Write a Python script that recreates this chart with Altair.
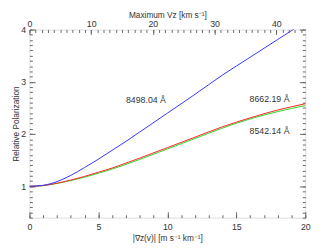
import altair as alt
import pandas as pd

FONT = "Liberation Sans"

# gradient |∇z(v)| in m s^-1 km^-1
grad = [0, 1, 2, 3, 4, 5, 6, 7, 8, 10, 12, 14, 16, 18, 20]
pol_8498 = [1.0, 1.02, 1.09, 1.21, 1.36, 1.52, 1.69, 1.86, 2.04, 2.40, 2.76, 3.13, 3.47, 3.81, 4.15]
pol_8542 = [1.0, 1.013, 1.055, 1.11, 1.175, 1.25, 1.33, 1.42, 1.515, 1.715, 1.915, 2.115, 2.29, 2.43, 2.545]
pol_8662 = [1.0, 1.015, 1.06, 1.12, 1.19, 1.27, 1.35, 1.445, 1.54, 1.74, 1.94, 2.14, 2.31, 2.46, 2.58]

x_major = [0, 5, 10, 15, 20]
x_minor = list(range(0, 21))
y_major = [1, 2, 3, 4]
y_minor = [round(0.4 + 0.1 * i, 1) for i in range(37)]
top_major = [0, 10, 20, 30, 40]
top_minor = list(range(0, 45))
vmax_end = 44.7

label_text = ["8498.04 Å", "8662.19 Å", "8542.14 Å"]
label_x = [7.0, 15.96, 15.96]
label_y = [2.65, 2.67, 2.06]

df = pd.DataFrame({"g": grad, "b": pol_8498, "gr": pol_8542, "r": pol_8662})
df_top = pd.DataFrame({"v": top_major, "yy": [1.0] * len(top_major)})
df_lab = pd.DataFrame({"t": label_text, "lx": label_x, "ly": label_y})

xs = alt.Scale(domain=[0, 20], nice=False, zero=False)
ys = alt.Scale(domain=[0.4, 4], nice=False, zero=False)
vs = alt.Scale(domain=[0, vmax_end], nice=False, zero=False)

TXT = "#333333"
TICK = "#666666"


def line(col, color):
    return alt.Chart(df).mark_line(color=color, strokeWidth=1, clip=True, interpolate="monotone").encode(
        x=alt.X("g:Q", scale=xs, axis=None),
        y=alt.Y(f"{col}:Q", scale=ys, axis=None),
    )


def axis_layer(xaxis=None, yaxis=None, top=False):
    if top:
        return alt.Chart(df_top).mark_point(opacity=0).encode(
            x=alt.X("v:Q", scale=vs, axis=xaxis),
            y=alt.Y("yy:Q", scale=ys, axis=yaxis),
        )
    return alt.Chart(df).mark_point(opacity=0).encode(
        x=alt.X("g:Q", scale=xs, axis=xaxis),
        y=alt.Y("b:Q", scale=ys, axis=yaxis),
    )


def label_axis(orient, values, title, pad, tpad):
    return alt.Axis(orient=orient, values=values, ticks=False, domain=False, grid=False,
                    labelPadding=pad, labelFont=FONT, labelFontSize=9, labelColor=TXT,
                    title=title, titleFont=FONT, titleFontSize=8.5, titleFontWeight="normal",
                    titleColor=TXT, titlePadding=tpad, format="d", labelFlush=False)


def tick_axis(orient, values, size):
    return alt.Axis(orient=orient, values=values, labels=False, domain=False, grid=False,
                    tickSize=size, offset=-size, tickColor=TICK, tickWidth=1, title=None)


layers = [
    line("gr", "#22dd22"),
    line("r", "#ff2020"),
    line("b", "#3333ff"),
    alt.Chart(df_lab).mark_text(align="left", baseline="middle", font=FONT, fontSize=9, color=TXT).encode(
        x=alt.X("lx:Q", scale=xs, axis=None),
        y=alt.Y("ly:Q", scale=ys, axis=None),
        text="t:N",
    ),
    axis_layer(xaxis=label_axis("bottom", x_major, "|∇ᴢ(v)|  [m s⁻¹ km⁻¹]", 5, 2)),
    axis_layer(xaxis=tick_axis("bottom", x_major, 6)),
    axis_layer(xaxis=tick_axis("bottom", x_minor, 3)),
    axis_layer(yaxis=label_axis("left", y_major, "Relative Polarization", 4, 0)),
    axis_layer(yaxis=tick_axis("left", y_major, 6)),
    axis_layer(yaxis=tick_axis("left", y_minor, 3)),
    axis_layer(yaxis=tick_axis("right", y_major, 6)),
    axis_layer(yaxis=tick_axis("right", y_minor, 3)),
    axis_layer(xaxis=label_axis("top", top_major, "Maximum Vᴢ [km s⁻¹]", 1, 0), top=True),
    axis_layer(xaxis=tick_axis("top", top_major, 5), top=True),
    axis_layer(xaxis=tick_axis("top", top_minor, 3), top=True),
]

chart = alt.layer(*layers).resolve_scale(x="independent").resolve_axis(
    x="independent", y="independent"
).properties(
    width=283, height=193,
    autosize=alt.AutoSizeParams(type="none"),
    padding={"left": 22, "top": 19, "right": 11, "bottom": 28},
).configure_view(stroke="#777777", strokeWidth=1).configure(background="white")

chart.save("out.html", embed_options={"renderer": "svg", "actions": False})
